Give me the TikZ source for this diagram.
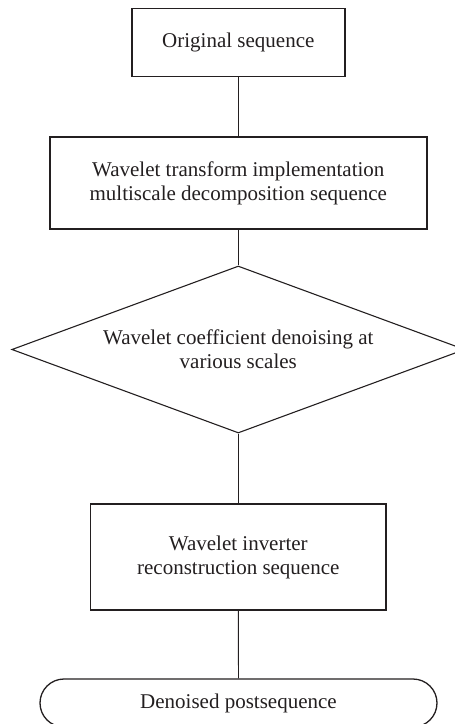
\documentclass[tikz,border=0pt]{standalone}
\usepackage{fontspec}
\setmainfont{Liberation Serif}
\usepackage{xcolor}
\usepackage{tikz}
\usetikzlibrary{shapes.geometric}
\definecolor{inkgray}{RGB}{35,31,32}

\begin{document}
\begin{tikzpicture}[
  x=1pt, y={(0,-1pt)},
  font=\fontsize{21}{24}\selectfont, text=inkgray,
  stagebox/.style={draw=inkgray, line width=1.6pt, align=center, inner sep=0pt},
  choice/.style={draw=inkgray, line width=1.1pt, diamond, aspect=2.71, align=center, inner sep=0pt},
  term/.style={draw=inkgray, line width=1.3pt, rounded corners=24pt, align=center, inner sep=0pt},
  conn/.style={draw=inkgray, line width=0.9pt}
]
\useasboundingbox (0,0) rectangle (455,724);
\node[stagebox, minimum width=213pt, minimum height=68pt] (s1) at (238.3,42.5) {Original sequence};
\node[stagebox, minimum width=377pt, minimum height=92pt] (s2) at (238.3,183) {Wavelet transform implementation\\multiscale decomposition sequence};
\node[choice, minimum width=453pt, minimum height=167pt] (s3) at (238.3,349.5) {Wavelet coefficient denoising at\\various scales};
\node[stagebox, minimum width=295.5pt, minimum height=106pt] (s4) at (238.3,557) {Wavelet inverter\\reconstruction sequence};
\node[term, minimum width=397pt, minimum height=48pt] (s5) at (238.5,703) {Denoised postsequence};

\draw[conn] (s1) -- (s2);
\draw[conn] (s2) -- (s3);
\draw[conn] (s3) -- (s4);
\draw[conn] (s4) -- (s5);
\end{tikzpicture}
\end{document}
